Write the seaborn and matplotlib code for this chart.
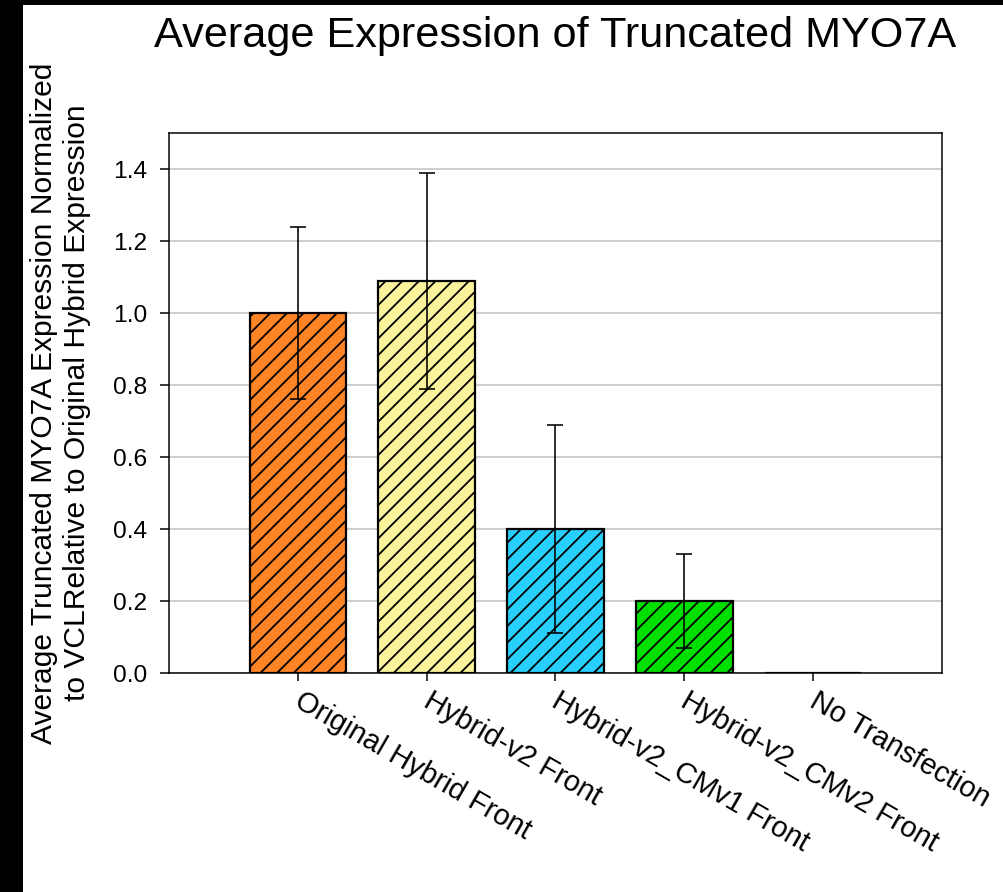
import matplotlib
matplotlib.use("Agg")
import matplotlib.pyplot as plt
import matplotlib.transforms as mtransforms
import seaborn as sns
import pandas as pd
from matplotlib.patches import Rectangle

# Construct labels, bar heights, error ranges and fill colours
categories = [
    "Original Hybrid Front",
    "Hybrid-v2 Front",
    "Hybrid-v2_CMv1 Front",
    "Hybrid-v2_CMv2 Front",
    "No Transfection",
]
means = [1.00, 1.09, 0.40, 0.20, 0.00]
err_low = [0.24, 0.30, 0.29, 0.13, 0.00]
err_high = [0.24, 0.30, 0.29, 0.13, 0.00]
bar_colors = ["#ff8425", "#faf39b", "#29cffc", "#00e000", "#ffffff"]
y_ticks = [0.0, 0.2, 0.4, 0.6, 0.8, 1.0, 1.2, 1.4]

DPI = 100
PT = 72.0 / DPI  # points per pixel


def px(v):
    return v * PT


sns.set_theme(style="white")
plt.rcParams["font.family"] = ["Liberation Sans", "DejaVu Sans"]
plt.rcParams["hatch.linewidth"] = px(1.8)
plt.rcParams["hatch.color"] = "black"

df = pd.DataFrame({"construct": categories, "mean": means})

fig = plt.figure(figsize=(1004 / DPI, 892 / DPI), dpi=DPI)
fig.patch.set_facecolor("white")

# dark frame strips along the left and top edges
fig.add_artist(Rectangle((0, 0), 23 / 1004, 1, transform=fig.transFigure,
                         facecolor="black", edgecolor="none", zorder=-1))
fig.add_artist(Rectangle((0, 1 - 5 / 892), 1, 5 / 892, transform=fig.transFigure,
                         facecolor="black", edgecolor="none", zorder=-1))

ax = fig.add_axes([169 / 1004, 1 - 673 / 892, (942 - 169) / 1004, (673 - 133) / 892])

sns.barplot(data=df, x="construct", y="mean", hue="construct",
            palette=bar_colors, order=categories, hue_order=categories,
            errorbar=None, legend=False, width=0.75, ax=ax,
            edgecolor="black", linewidth=px(2.2), saturation=1, zorder=2)

for patch in ax.patches:
    patch.set_hatch("//")
    patch.set_zorder(2)

xpos = list(range(len(categories)))
ax.errorbar(xpos[:4], means[:4], yerr=[err_low[:4], err_high[:4]], fmt="none",
            ecolor="black", elinewidth=px(1.6), capsize=px(8), capthick=px(1.6),
            zorder=4)

ax.set_xlim(-1.0, 5.0)
ax.set_ylim(0, 1.5)
ax.set_yticks(y_ticks)
ax.set_yticklabels([f"{t:.1f}" for t in y_ticks])
ax.yaxis.grid(True, color="#c4c4c4", linewidth=px(1.6), zorder=0)
ax.xaxis.grid(False)
ax.set_axisbelow(True)

for s in ax.spines.values():
    s.set_visible(True)
    s.set_color("black")
    s.set_linewidth(px(1.5))

ax.tick_params(axis="y", direction="out", length=px(9), width=px(1.5),
               labelsize=px(24.5), pad=px(13), left=True, colors="black")
ax.tick_params(axis="x", direction="out", length=px(8), width=px(1.5),
               labelsize=px(29), pad=px(6), bottom=True, colors="black")
ax.set_xticks(xpos)
ax.set_xticklabels(categories, rotation=-30, ha="left", va="top",
                   rotation_mode="anchor")
shift = mtransforms.ScaledTranslation(6 / DPI, 0, fig.dpi_scale_trans)
for lbl in ax.get_xticklabels():
    lbl.set_transform(lbl.get_transform() + shift)

ax.set_xlabel("")
ax.set_ylabel("Average Truncated MYO7A Expression Normalized\nto VCLRelative to Original Hybrid Expression",
              fontsize=px(30), color="black", labelpad=px(22))
ax.set_title("Average Expression of Truncated MYO7A", fontsize=px(43.3),
             color="black", pad=px(86))

fig.savefig("out.png", dpi=DPI, facecolor="white")
